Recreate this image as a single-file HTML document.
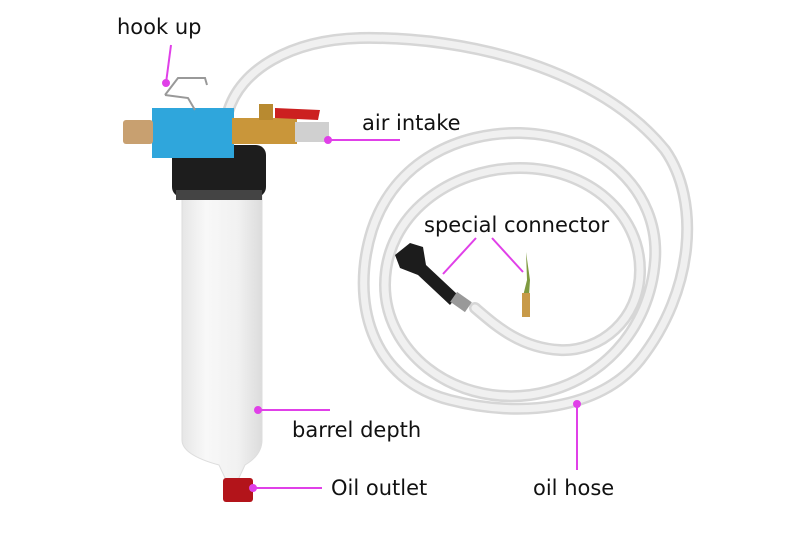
<!DOCTYPE html><html><head><style>body{margin:0;background:#fff}svg{display:block}text{font-family:"DejaVu Sans","Liberation Sans",sans-serif;font-size:21px;fill:#111}</style></head><body>
<svg width="800" height="533" viewBox="0 0 800 533">
<defs><linearGradient id="b" x1="0" x2="1"><stop offset="0" stop-color="#e6e6e6"/><stop offset=".3" stop-color="#f8f8f8"/><stop offset=".7" stop-color="#f1f1f1"/><stop offset="1" stop-color="#dcdcdc"/></linearGradient></defs>
<g fill="none" stroke-linecap="round">
<path d="M228 112 C240 70 290 40 360 38 C470 36 600 70 665 150 C700 200 695 290 640 360 C600 410 520 418 450 400 C370 380 350 300 372 230 C395 160 460 132 520 133 C600 135 660 190 655 260 C650 330 600 385 530 395 C450 405 385 350 385 285 C385 215 450 168 520 168 C590 168 640 215 640 270 C640 320 600 352 560 350 C520 348 495 325 475 308" stroke="#d6d6d6" stroke-width="12"/>
<path d="M228 112 C240 70 290 40 360 38 C470 36 600 70 665 150 C700 200 695 290 640 360 C600 410 520 418 450 400 C370 380 350 300 372 230 C395 160 460 132 520 133 C600 135 660 190 655 260 C650 330 600 385 530 395 C450 405 385 350 385 285 C385 215 450 168 520 168 C590 168 640 215 640 270 C640 320 600 352 560 350 C520 348 495 325 475 308" stroke="#f0f0f0" stroke-width="7"/>
</g>
<path d="M395 255 L410 243 L423 247 L426 265 L458 295 L450 305 L418 275 L400 268Z" fill="#1c1c1c"/>
<rect x="452" y="296" width="18" height="12" fill="#999" transform="rotate(35 461 302)"/>
<path d="M526 252 L530 280 L529 296 L523 296 L527 280Z" fill="#7f9a40"/>
<rect x="522" y="293" width="8" height="24" fill="#c89a48"/>
<path d="M182 195 H262 V440 Q262 455 245 465 L238 480 H226 L219 465 Q182 455 182 440Z" fill="url(#b)" stroke="#ddd"/>
<rect x="223" y="478" width="30" height="24" rx="3" fill="#b3141a"/>
<rect x="172" y="145" width="94" height="52" rx="10" fill="#1d1d1d"/>
<rect x="176" y="190" width="86" height="10" fill="#444"/>
<rect x="152" y="108" width="82" height="50" fill="#2fa6dc"/>
<rect x="123" y="120" width="30" height="24" rx="3" fill="#c8a070"/>
<rect x="232" y="118" width="65" height="26" fill="#c9963a"/>
<rect x="259" y="104" width="14" height="16" fill="#b88a30"/>
<path d="M275 108 L320 110 L318 120 L275 118Z" fill="#cc2020"/>
<rect x="295" y="122" width="34" height="20" fill="#d0d0d0"/>
<path d="M165 95 L178 78 L205 78 L207 85" stroke="#999" stroke-width="2" fill="none"/>
<path d="M165 95 L188 98 L195 110" stroke="#999" stroke-width="2" fill="none"/>
<g stroke="#e040e8" stroke-width="2" fill="#e040e8">
<line x1="171" y1="45" x2="166" y2="83"/><circle cx="166" cy="83" r="3"/>
<line x1="328" y1="140" x2="400" y2="140"/><circle cx="328" cy="140" r="3"/>
<line x1="476" y1="238" x2="443" y2="274"/><line x1="492" y1="238" x2="523" y2="272"/>
<line x1="258" y1="410" x2="330" y2="410"/><circle cx="258" cy="410" r="3"/>
<line x1="253" y1="488" x2="322" y2="488"/><circle cx="253" cy="488" r="3"/>
<line x1="577" y1="404" x2="577" y2="470"/><circle cx="577" cy="404" r="3"/>
</g>
<text x="117" y="34">hook up</text>
<text x="362" y="130">air intake</text>
<text x="424" y="232">special connector</text>
<text x="292" y="437">barrel depth</text>
<text x="331" y="495">Oil outlet</text>
<text x="533" y="495">oil hose</text>
</svg></body></html>
